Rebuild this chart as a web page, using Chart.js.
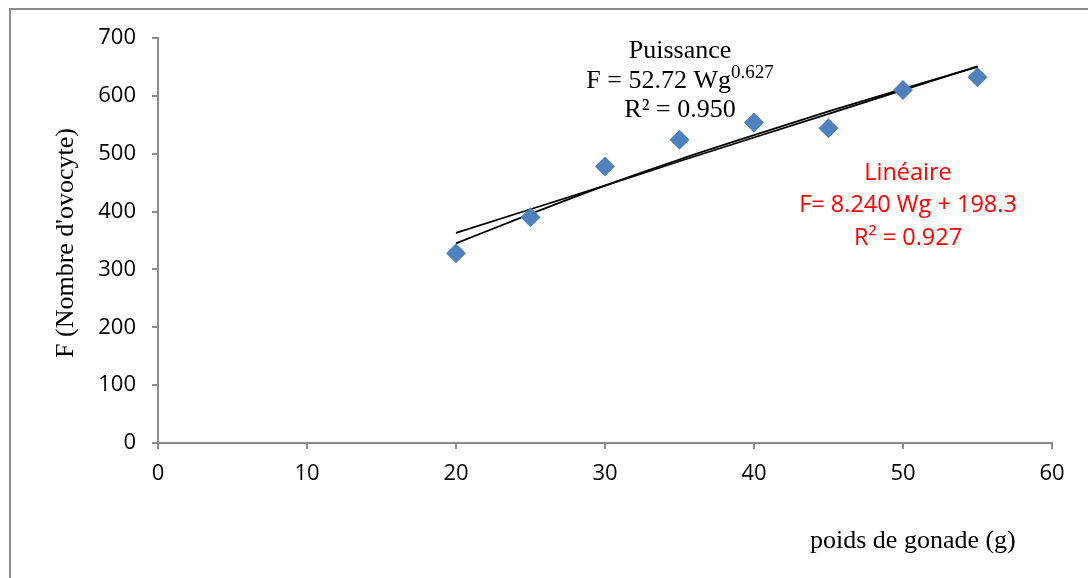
<!DOCTYPE html>
<html>
<head>
<meta charset="utf-8">
<script src="https://cdn.jsdelivr.net/npm/chart.js@4/dist/chart.umd.min.js"></script>
<style>
  html, body { margin: 0; padding: 0; background: #fff; }
  #wrap { width: 1088px; height: 578px; position: relative; }
</style>
</head>
<body>
<div id="wrap"><canvas id="chart" width="1088" height="578"></canvas></div>
<script>
// ---------- DATA ----------
const poids = [20, 25, 30, 35, 40, 45, 50, 55];
const ovocytes = [328, 390, 478, 524, 554, 544, 610, 632];
// trend lines
const lineaire = [363, 404, 445, 487, 528, 569, 610, 651];
const puissance = [345, 396, 445, 490, 532, 573, 612, 650];

const xTicks = [0, 10, 20, 30, 40, 50, 60];
const yTicks = [0, 100, 200, 300, 400, 500, 600, 700];

const puissanceLabel = ["Puissance", "F = 52.72 Wg", "0.627", "R\u00b2 = 0.950"];
const lineaireLabel = ["Lin\u00e9aire", "F= 8.240 Wg + 198.3", "R\u00b2 = 0.927"];
const xTitle = "poids de gonade (g)";
const yTitle = "F (Nombre d'ovocyte)";

const toXY = (xs, ys) => xs.map((x, i) => ({ x, y: ys[i] }));

// ---------- TEXT + FRAME ----------
const extras = {
  id: "extras",
  afterDraw(chart) {
    const c = chart.ctx;
    c.save();
    // outer frame
    c.strokeStyle = "#8c8c8c";
    c.lineWidth = 2;
    c.strokeRect(10, 9, 1100, 600);

    // axis titles
    c.fillStyle = "#000";
    c.font = "26px 'Liberation Serif'";
    c.textAlign = "left";
    c.textBaseline = "middle";
    c.fillText(xTitle, 810, 541);
    c.save();
    c.translate(66, 243);
    c.rotate(-Math.PI / 2);
    c.textAlign = "center";
    c.fillText(yTitle, 0, 0);
    c.restore();

    // power trend label
    c.textAlign = "center";
    c.font = "26px 'Liberation Serif'";
    c.fillText(puissanceLabel[0], 680, 51);
    const main = puissanceLabel[1];
    const wMain = c.measureText(main).width;
    c.font = "19px 'Liberation Serif'";
    const wExp = c.measureText(puissanceLabel[2]).width;
    const start = 680 - (wMain + wExp) / 2;
    c.textAlign = "left";
    c.font = "26px 'Liberation Serif'";
    c.fillText(main, start, 81);
    c.font = "19px 'Liberation Serif'";
    c.fillText(puissanceLabel[2], start + wMain, 73);
    c.textAlign = "center";
    c.font = "26px 'Liberation Serif'";
    c.fillText(puissanceLabel[3], 680, 110);

    // linear trend label
    c.fillStyle = "#ff0000";
    c.font = "23.5px 'Open Sans'";
    c.fillText(lineaireLabel[0], 908, 173);
    c.fillText(lineaireLabel[1], 908, 205);
    c.fillText(lineaireLabel[2], 908, 238);
    c.restore();
  }
};

// ---------- CHART ----------
new Chart(document.getElementById("chart"), {
  type: "scatter",
  data: {
    datasets: [
      {
        label: "Linéaire",
        data: toXY(poids, lineaire),
        showLine: true,
        borderColor: "#000",
        borderWidth: 1.8,
        pointRadius: 0,
        order: 2
      },
      {
        label: "Puissance",
        data: toXY(poids, puissance),
        showLine: true,
        borderColor: "#000",
        borderWidth: 1.8,
        pointRadius: 0,
        cubicInterpolationMode: "monotone",
        order: 2
      },
      {
        label: "F",
        data: toXY(poids, ovocytes),
        pointStyle: "rectRot",
        pointRadius: 10,
        pointHoverRadius: 10,
        backgroundColor: "#4f81bd",
        borderColor: "#4f81bd",
        borderWidth: 0,
        order: 1
      }
    ]
  },
  options: {
    responsive: false,
    animation: false,
    layout: { padding: { left: 0, right: 36, top: 38, bottom: 0 } },
    plugins: { legend: { display: false }, tooltip: { enabled: false } },
    scales: {
      x: {
        type: "linear",
        min: 0,
        max: 60,
        afterBuildTicks: s => { s.ticks = xTicks.map(v => ({ value: v })); },
        afterFit: s => { s.height = 578 - 443; },
        border: { color: "#8c8c8c", width: 2 },
        grid: { drawOnChartArea: false, drawTicks: true, tickLength: 6, color: "#8c8c8c", lineWidth: 2 },
        ticks: { color: "#000", font: { family: "Open Sans", size: 22 }, padding: 12, maxRotation: 0 }
      },
      y: {
        min: 0,
        max: 700,
        afterBuildTicks: s => { s.ticks = yTicks.map(v => ({ value: v })); },
        afterFit: s => { s.width = 158; },
        border: { color: "#8c8c8c", width: 2 },
        grid: { drawOnChartArea: false, drawTicks: true, tickLength: 6, color: "#8c8c8c", lineWidth: 2 },
        ticks: { color: "#000", font: { family: "Open Sans", size: 22 }, padding: 16 }
      }
    }
  },
  plugins: [extras]
});
</script>
</body>
</html>
